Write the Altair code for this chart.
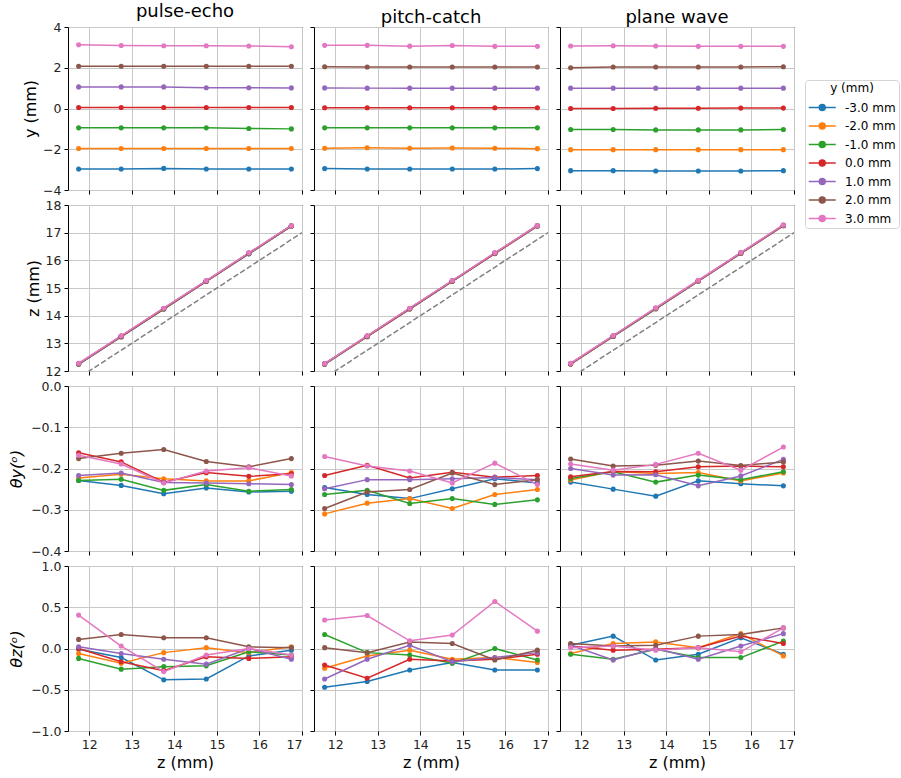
import altair as alt
import pandas as pd

# ---------------- data ----------------
z_positions = [11.75, 12.75, 13.75, 14.75, 15.75, 16.75]
series_labels = ["-3.0 mm", "-2.0 mm", "-1.0 mm", "0.0 mm", "1.0 mm", "2.0 mm", "3.0 mm"]
series_colors = ["#1f77b4", "#ff7f0e", "#2ca02c", "#d62728", "#9467bd", "#8c564b", "#e377c2"]
method_titles = ["pulse-echo", "pitch-catch", "plane wave"]
ref_line_z = [11.5, 17.0]
x_ticks = [12, 13, 14, 15, 16, 17]

row_titles = ["y (mm)", "z (mm)", "θy(ᵒ)", "θz(ᵒ)"]
row_domains = [[-4, 4], [12, 18], [-0.4, 0.0], [-1.0, 1.0]]
row_ticks = [[-4, -2, 0, 2, 4], [12, 13, 14, 15, 16, 17, 18],
             [-0.4, -0.3, -0.2, -0.1, 0.0], [-1.0, -0.5, 0.0, 0.5, 1.0]]
row_formats = ["d", "d", ".1f", ".1f"]

# y position (mm); series order: -3 ... 3 mm
pulse_echo_y = [
    [-2.97, -2.97, -2.94, -2.97, -2.97, -2.97],
    [-1.96, -1.96, -1.96, -1.96, -1.96, -1.96],
    [-0.95, -0.95, -0.95, -0.95, -0.98, -1.00],
    [0.05, 0.05, 0.05, 0.05, 0.05, 0.05],
    [1.06, 1.06, 1.06, 1.02, 1.02, 1.01],
    [2.07, 2.07, 2.07, 2.07, 2.07, 2.07],
    [3.13, 3.09, 3.08, 3.08, 3.07, 3.03],
]
pitch_catch_y = [
    [-2.95, -2.97, -2.97, -2.97, -2.97, -2.95],
    [-1.95, -1.93, -1.95, -1.94, -1.95, -1.97],
    [-0.95, -0.95, -0.95, -0.95, -0.95, -0.95],
    [0.04, 0.04, 0.04, 0.04, 0.04, 0.04],
    [1.01, 1.00, 1.00, 1.00, 1.00, 1.00],
    [2.05, 2.04, 2.04, 2.04, 2.04, 2.04],
    [3.10, 3.10, 3.06, 3.09, 3.05, 3.05],
]
plane_wave_y = [
    [-3.05, -3.05, -3.07, -3.07, -3.07, -3.05],
    [-2.02, -2.02, -2.02, -2.02, -2.02, -2.02],
    [-1.03, -1.03, -1.05, -1.05, -1.05, -1.03],
    [0.00, 0.00, 0.01, 0.01, 0.02, 0.02],
    [1.00, 1.00, 1.00, 1.00, 1.00, 1.00],
    [2.00, 2.04, 2.04, 2.04, 2.04, 2.05],
    [3.07, 3.08, 3.07, 3.05, 3.05, 3.05],
]

# z position (mm)
pulse_echo_z = [
    [12.24, 13.23, 14.24, 15.24, 16.23, 17.24],
    [12.25, 13.24, 14.25, 15.24, 16.24, 17.24],
    [12.25, 13.25, 14.24, 15.25, 16.24, 17.25],
    [12.26, 13.25, 14.25, 15.25, 16.25, 17.25],
    [12.26, 13.26, 14.26, 15.25, 16.25, 17.25],
    [12.27, 13.26, 14.26, 15.26, 16.26, 17.25],
    [12.28, 13.27, 14.27, 15.27, 16.27, 17.26],
]
pitch_catch_z = [
    [12.24, 13.24, 14.24, 15.24, 16.24, 17.24],
    [12.25, 13.24, 14.25, 15.25, 16.24, 17.24],
    [12.25, 13.25, 14.25, 15.25, 16.25, 17.25],
    [12.26, 13.25, 14.25, 15.25, 16.25, 17.25],
    [12.26, 13.26, 14.26, 15.26, 16.26, 17.25],
    [12.27, 13.26, 14.26, 15.26, 16.26, 17.26],
    [12.27, 13.27, 14.27, 15.27, 16.27, 17.26],
]
plane_wave_z = [
    [12.25, 13.25, 14.25, 15.25, 16.25, 17.25],
    [12.25, 13.25, 14.25, 15.25, 16.25, 17.25],
    [12.26, 13.25, 14.25, 15.26, 16.26, 17.26],
    [12.26, 13.26, 14.26, 15.26, 16.26, 17.26],
    [12.27, 13.26, 14.26, 15.26, 16.26, 17.26],
    [12.27, 13.27, 14.27, 15.27, 16.27, 17.27],
    [12.28, 13.28, 14.28, 15.28, 16.28, 17.28],
]

# theta_y (deg)
pulse_echo_ty = [
    [-0.229, -0.241, -0.261, -0.247, -0.257, -0.255],
    [-0.223, -0.214, -0.225, -0.230, -0.230, -0.210],
    [-0.229, -0.226, -0.253, -0.239, -0.255, -0.251],
    [-0.162, -0.184, -0.233, -0.210, -0.219, -0.213],
    [-0.217, -0.211, -0.234, -0.235, -0.237, -0.239],
    [-0.176, -0.163, -0.154, -0.183, -0.196, -0.176],
    [-0.168, -0.189, -0.235, -0.206, -0.198, -0.218],
]
pitch_catch_ty = [
    [-0.246, -0.263, -0.273, -0.249, -0.225, -0.235],
    [-0.310, -0.284, -0.273, -0.297, -0.263, -0.251],
    [-0.263, -0.253, -0.285, -0.273, -0.287, -0.276],
    [-0.217, -0.192, -0.223, -0.209, -0.221, -0.217],
    [-0.249, -0.227, -0.227, -0.225, -0.222, -0.227],
    [-0.297, -0.257, -0.251, -0.211, -0.239, -0.227],
    [-0.171, -0.194, -0.206, -0.235, -0.187, -0.239],
]
plane_wave_ty = [
    [-0.233, -0.250, -0.267, -0.230, -0.237, -0.242],
    [-0.228, -0.207, -0.212, -0.210, -0.230, -0.211],
    [-0.224, -0.208, -0.233, -0.216, -0.227, -0.208],
    [-0.220, -0.207, -0.208, -0.196, -0.194, -0.196],
    [-0.200, -0.216, -0.215, -0.242, -0.218, -0.178],
    [-0.177, -0.194, -0.192, -0.182, -0.193, -0.184],
    [-0.189, -0.204, -0.190, -0.163, -0.204, -0.148],
]

# theta_z (deg)
pulse_echo_tz = [
    [-0.01, -0.11, -0.38, -0.37, -0.09, -0.02],
    [-0.06, -0.18, -0.05, 0.01, -0.05, 0.02],
    [-0.12, -0.25, -0.22, -0.21, -0.04, -0.08],
    [0.00, -0.16, -0.27, -0.10, -0.12, -0.10],
    [0.02, -0.06, -0.13, -0.19, 0.00, -0.13],
    [0.11, 0.17, 0.13, 0.13, 0.02, 0.01],
    [0.405, 0.03, -0.28, -0.08, 0.00, -0.08],
]
pitch_catch_tz = [
    [-0.47, -0.40, -0.26, -0.17, -0.26, -0.26],
    [-0.24, -0.09, -0.02, -0.13, -0.11, -0.17],
    [0.17, -0.05, -0.08, -0.18, 0.00, -0.14],
    [-0.20, -0.36, -0.13, -0.15, -0.13, -0.07],
    [-0.37, -0.13, 0.04, -0.16, -0.11, -0.05],
    [0.01, -0.05, 0.08, 0.06, -0.14, -0.02],
    [0.345, 0.40, 0.093, 0.163, 0.57, 0.21],
]
plane_wave_tz = [
    [0.04, 0.15, -0.14, -0.07, 0.13, -0.07],
    [-0.06, 0.06, 0.08, 0.01, 0.18, -0.09],
    [-0.07, -0.13, -0.01, -0.11, -0.11, 0.09],
    [0.03, -0.02, -0.01, 0.01, 0.15, 0.06],
    [0.04, -0.14, 0.00, -0.13, 0.03, 0.18],
    [0.06, 0.03, 0.04, 0.15, 0.17, 0.25],
    [0.01, 0.03, -0.02, 0.01, -0.04, 0.25],
]

panel_data = [
    [pulse_echo_y, pitch_catch_y, plane_wave_y],
    [pulse_echo_z, pitch_catch_z, plane_wave_z],
    [pulse_echo_ty, pitch_catch_ty, plane_wave_ty],
    [pulse_echo_tz, pitch_catch_tz, plane_wave_tz],
]

# ---------------- chart ----------------
FONT = "DejaVu Sans"
PAD_LEFT = 8
PAD_TOP = 2
row_heights = [163, 166, 165, 165]
row_title_padding = [4, 4, 6, 6]
row_title_style = ["normal", "normal", "italic", "italic"]

color_scale = alt.Scale(domain=series_labels, range=series_colors)
legend_symbol = "M-1,0H3M0.56,0A0.44,0.44,0,1,0,1.44,0A0.44,0.44,0,1,0,0.56,0Z"
legend = alt.Legend(
    title="y (mm)", symbolType=legend_symbol, symbolSize=182, symbolStrokeWidth=1.5,
    orient="none", legendX=737, legendY=53,
    labelOffset=22, padding=3, rowPadding=4.5, titleAnchor="middle",
    strokeColor="#d5d5d5", fillColor="white", cornerRadius=3,
)


def long_frame(values):
    rec = []
    for lab, vals in zip(series_labels, values):
        for zv, v in zip(z_positions, vals):
            rec.append({"z": zv, "v": v, "s": lab})
    return pd.DataFrame(rec)


panels = []
for r in range(4):
    for c in range(3):
        df = long_frame(panel_data[r][c])
        bottom = r == 3
        x_axis = alt.Axis(values=x_ticks, format="d", labels=bottom,
                          title="z (mm)" if bottom else None)
        y_axis = alt.Axis(values=row_ticks[r], format=row_formats[r], labels=(c == 0),
                          title=row_titles[r] if c == 0 else None,
                          titlePadding=row_title_padding[r], titleFontStyle=row_title_style[r])
        x_enc = alt.X("z:Q", scale=alt.Scale(domain=[11.5, 17], nice=False, zero=False), axis=x_axis)
        y_enc = alt.Y("v:Q", scale=alt.Scale(domain=row_domains[r], nice=False, zero=False), axis=y_axis)
        base = alt.Chart(df)
        lines = base.mark_line(strokeWidth=1.5).encode(
            x=x_enc, y=y_enc, stroke=alt.Stroke("s:N", scale=color_scale, legend=legend))
        pts = base.mark_circle(size=26, opacity=1).encode(
            x=x_enc, y=y_enc, fill=alt.Fill("s:N", scale=color_scale, legend=legend))
        layers = [lines, pts]
        if r == 1:
            ref_df = pd.DataFrame({"z": ref_line_z, "v": ref_line_z})
            ref = alt.Chart(ref_df).mark_line(
                color="#808080", strokeDash=[5.5, 2.4], strokeWidth=1.5, clip=True
            ).encode(x=x_enc, y=y_enc)
            layers.append(ref)
        layer = alt.layer(*layers).properties(width=234, height=row_heights[r])
        if r == 0:
            layer = layer.properties(title=alt.TitleParams(text=method_titles[c], offset=0))
        panels.append(layer)

chart = alt.concat(*panels, columns=3, spacing={"row": 1, "column": 6}, align="each").properties(
    padding={"left": PAD_LEFT, "top": PAD_TOP, "right": 0, "bottom": 0}
).configure_view(
    stroke="black", strokeWidth=1
).configure_axis(
    domain=False, tickColor="black", tickSize=4, tickWidth=1,
    gridColor="#c8c8c8", gridWidth=1,
    labelFont=FONT, labelFontSize=12.5, labelColor="#222222", labelPadding=3,
    titleFont=FONT, titleFontSize=16, titleFontWeight="normal", titleColor="black",
).configure_title(
    font=FONT, fontSize=18, fontWeight="normal", color="black"
).configure_legend(
    labelFont=FONT, labelFontSize=12, labelColor="black",
    titleFont=FONT, titleFontSize=12, titleFontWeight="normal", titleColor="black",
)

chart.save("out.html", embed_options={"renderer": "svg", "actions": False})
